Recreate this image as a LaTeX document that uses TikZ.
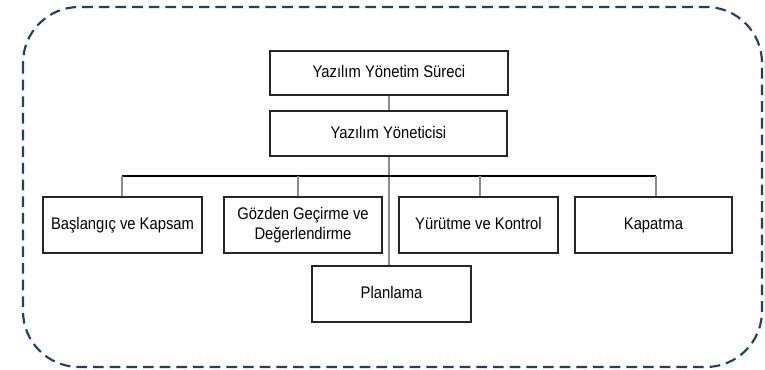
\documentclass[tikz,border=0pt]{standalone}
\usepackage{fontspec}
\setmainfont{Liberation Sans}[FakeStretch=0.88]
\begin{document}
\begin{tikzpicture}[x=0.75pt,y=-0.75pt,
  box/.style={draw=black!85, line width=0.8pt, fill=white, inner sep=0pt,
    align=center, font=\fontsize{12.6}{14.5}\selectfont},
  single/.style={text height=9.5pt, text depth=2.7pt},
  bus/.style={draw=black, line width=0.8pt},
  stem/.style={draw=black!45, line width=1pt},
  frame/.style={draw={rgb,255:red,31;green,63;blue,110}, line width=1.6pt,
    dash pattern=on 8pt off 4.5pt, rounded corners=42pt}]
\useasboundingbox (0,0) rectangle (765,370);
% outer dashed frame
\draw[frame] (23,7) rectangle (762,367);
% boxes
\node[box, single, minimum width=238*0.75pt, minimum height=44*0.75pt] (proc) at (389,73) {Yazılım Yönetim Süreci};
\node[box, single, minimum width=237*0.75pt, minimum height=45*0.75pt] (mgr) at (388.5,133.5) {Yazılım Yöneticisi};
\node[box, single, minimum width=159*0.75pt, minimum height=56*0.75pt] (a) at (122.5,225) {Başlangıç ve Kapsam};
\node[box, minimum width=158*0.75pt, minimum height=56*0.75pt] (b) at (303,225) {Gözden Geçirme ve\\Değerlendirme};
\node[box, single, minimum width=159*0.75pt, minimum height=56*0.75pt] (c) at (478.5,225) {Yürütme ve Kontrol};
\node[box, single, minimum width=157*0.75pt, minimum height=56*0.75pt] (d) at (653.5,225) {Kapatma};
\node[box, single, minimum width=159*0.75pt, minimum height=56*0.75pt] (p) at (391.5,294) {Planlama};
% connectors
\coordinate (busL) at (122,176);
\coordinate (busR) at (656,176);
\draw[stem] (proc.south -| 389,0) -- (mgr.north -| 389,0);
\draw[stem] (mgr.south -| 389,0) -- (p.north -| 389,0);
\draw[bus] (busL) -- (busR);
\draw[stem] (busL) -- (busL |- a.north);
\draw[stem] (298,176) -- (b.north -| 298,0);
\draw[stem] (480,176) -- (c.north -| 480,0);
\draw[stem] (busR) -- (busR |- d.north);
\end{tikzpicture}
\end{document}
